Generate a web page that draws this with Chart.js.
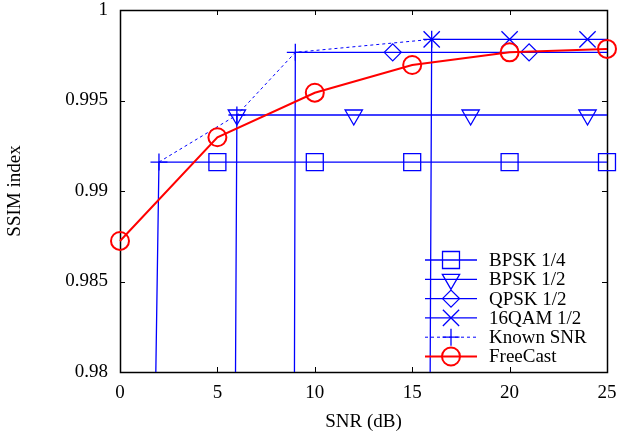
<!DOCTYPE html>
<html>
<head>
<meta charset="utf-8">
<script src="https://cdn.jsdelivr.net/npm/chart.js@4/dist/chart.umd.min.js"></script>
<style>
  body { margin: 0; background: #fff; }
  canvas { display: block; }
</style>
</head>
<body>
<canvas id="myChart" width="620" height="434"></canvas>
<script>
// SSIM vs SNR values
const bpsk14X = [1.7, 2, 5, 10, 15, 20, 25];
const bpsk14Y = [0.97, 0.9916, 0.9916, 0.9916, 0.9916, 0.9916, 0.9916];
const bpsk14Marks = [5, 10, 15, 20, 25];

const bpsk12X = [5.88, 6, 12, 18, 24, 25];
const bpsk12Y = [0.97, 0.9942, 0.9942, 0.9942, 0.9942, 0.9942];
const bpsk12Marks = [6, 12, 18, 24];

const qpsk12X = [8.93, 9, 14, 21, 25];
const qpsk12Y = [0.97, 0.99766, 0.99766, 0.99766, 0.99766];
const qpsk12Marks = [14, 21];

const qam16X = [15.88, 16, 20, 24, 25];
const qam16Y = [0.97, 0.99838, 0.99838, 0.99838, 0.99838];
const qam16Marks = [16, 20, 24];

const knownX = [2, 6, 9, 16];
const knownY = [0.9916, 0.9942, 0.99766, 0.99838];

const freecastX = [0, 5, 10, 15, 20, 25];
const freecastY = [0.98724, 0.99297, 0.99543, 0.99696, 0.99766, 0.99785];

const xTicks = [0, 5, 10, 15, 20, 25];
const yTicks = [0.98, 0.985, 0.99, 0.995, 1];

const BLUE = '#0000ff';
const RED = '#ff0000';
const FONT = 'Liberation Serif';
const FS = 19;

Chart.defaults.font.family = FONT;
Chart.defaults.color = '#000';

function pts(xs, ys) {
    return xs.map((x, i) => ({ x: x, y: ys[i] }));
}

function markRadius(marks, r) {
    return ctx => (marks === null || marks.includes(ctx.raw.x)) ? r : 0;
}

function series(label, xs, ys, marks, style, r, color, extra) {
    return Object.assign({
        label: label,
        data: pts(xs, ys),
        showLine: true,
        borderColor: color,
        borderWidth: 1.3,
        pointStyle: style,
        pointRadius: markRadius(marks, r),
        pointHoverRadius: markRadius(marks, r),
        pointBorderColor: color,
        pointBackgroundColor: 'rgba(0,0,0,0)',
        pointBorderWidth: 1.3,
        tension: 0,
        clip: { left: 12, right: 14, top: 12, bottom: 0 },
        order: 2
    }, extra || {});
}

const datasets = [
    series('BPSK 1/4', bpsk14X, bpsk14Y, bpsk14Marks, 'rect', 12, BLUE),
    series('BPSK 1/2', bpsk12X, bpsk12Y, bpsk12Marks, 'triangle', 10, BLUE, { pointRotation: 180 }),
    series('QPSK 1/2', qpsk12X, qpsk12Y, qpsk12Marks, 'rectRot', 8.5, BLUE),
    series('16QAM 1/2', qam16X, qam16Y, qam16Marks, 'crossRot', 11.5, BLUE),
    series('Known SNR', knownX, knownY, null, 'cross', 8.5, BLUE, { borderDash: [3, 3], borderWidth: 1 }),
    series('FreeCast', freecastX, freecastY, null, 'circle', 9, RED, { borderWidth: 2, pointBorderWidth: 2, order: 1 })
];

// gnuplot style frame with inward ticks on all four sides
const framePlugin = {
    id: 'frame',
    beforeDatasetsDraw(chart) {
        const { ctx, chartArea: a, scales } = chart;
        ctx.save();
        ctx.strokeStyle = '#000';
        ctx.lineWidth = 1;
        ctx.beginPath();
        scales.x.ticks.forEach(t => {
            const px = Math.round(scales.x.getPixelForValue(t.value)) + 0.5;
            ctx.moveTo(px, a.bottom); ctx.lineTo(px, a.bottom - 5);
            ctx.moveTo(px, a.top); ctx.lineTo(px, a.top + 5);
        });
        scales.y.ticks.forEach(t => {
            const py = Math.round(scales.y.getPixelForValue(t.value)) + 0.5;
            ctx.moveTo(a.left, py); ctx.lineTo(a.left + 5, py);
            ctx.moveTo(a.right, py); ctx.lineTo(a.right - 5, py);
        });
        ctx.stroke();
        ctx.lineWidth = 1.5;
        ctx.strokeRect(Math.round(a.left) + 0.5, Math.round(a.top) + 0.5,
            Math.round(a.right - a.left), Math.round(a.bottom - a.top));
        ctx.restore();
    }
};

// legend with line sample + marker, text on the right
const keyPlugin = {
    id: 'key',
    afterDatasetsDraw(chart) {
        const ctx = chart.ctx;
        const x0 = 425, x1 = 477, xm = 451, xt = 489;
        const y0 = 260, dy = 19.3;
        ctx.save();
        chart.data.datasets.forEach((ds, i) => {
            const y = y0 + i * dy;
            ctx.strokeStyle = ds.borderColor;
            ctx.lineWidth = ds.borderWidth;
            ctx.setLineDash(ds.borderDash || []);
            ctx.beginPath();
            ctx.moveTo(x0, y); ctx.lineTo(x1, y);
            ctx.stroke();
            ctx.setLineDash([]);
            ctx.fillStyle = 'rgba(0,0,0,0)';
            ctx.lineWidth = ds.pointBorderWidth;
            const r = ds.pointRadius({ raw: { x: ds.data[ds.data.length - 2].x } }) ||
                      ds.pointRadius({ raw: { x: ds.data[1].x } });
            Chart.helpers.drawPoint(ctx, {
                pointStyle: ds.pointStyle,
                rotation: ds.pointRotation || 0,
                radius: r,
                borderWidth: ds.pointBorderWidth
            }, xm, y);
            ctx.fillStyle = '#000';
            ctx.font = FS + 'px "' + FONT + '"';
            ctx.textBaseline = 'middle';
            ctx.textAlign = 'left';
            ctx.fillText(ds.label, xt, y + 1);
        });
        ctx.restore();
    }
};

const myChart = new Chart(document.getElementById('myChart').getContext('2d'), {
    type: 'scatter',
    data: { datasets: datasets },
    options: {
        responsive: false,
        animation: false,
        devicePixelRatio: 1,
        layout: { autoPadding: false, padding: { top: 10, right: 13, left: 0, bottom: 0 } },
        plugins: { legend: { display: false }, tooltip: { enabled: false } },
        scales: {
            x: {
                type: 'linear',
                min: 0,
                max: 25,
                afterBuildTicks: s => { s.ticks = xTicks.map(v => ({ value: v })); },
                ticks: { font: { size: FS }, padding: 10, maxRotation: 0 },
                grid: { display: false, drawTicks: false },
                border: { display: false },
                title: { display: true, text: 'SNR (dB)', font: { size: FS }, padding: { top: 0, bottom: 1 } },
                afterFit: s => { s.height = 62; s.paddingLeft = 0; s.paddingRight = 0; }
            },
            y: {
                type: 'linear',
                min: 0.98,
                max: 1,
                afterBuildTicks: s => { s.ticks = yTicks.map(v => ({ value: v })); },
                ticks: { font: { size: FS }, padding: 12, callback: v => String(parseFloat(v.toFixed(3))) },
                grid: { display: false, drawTicks: false },
                border: { display: false },
                title: { display: true, text: 'SSIM index', font: { size: FS }, padding: { top: 4, bottom: 0 } },
                afterFit: s => { s.width = 120; s.paddingTop = 0; s.paddingBottom = 0; }
            }
        }
    },
    plugins: [framePlugin, keyPlugin]
});
</script>
</body>
</html>
